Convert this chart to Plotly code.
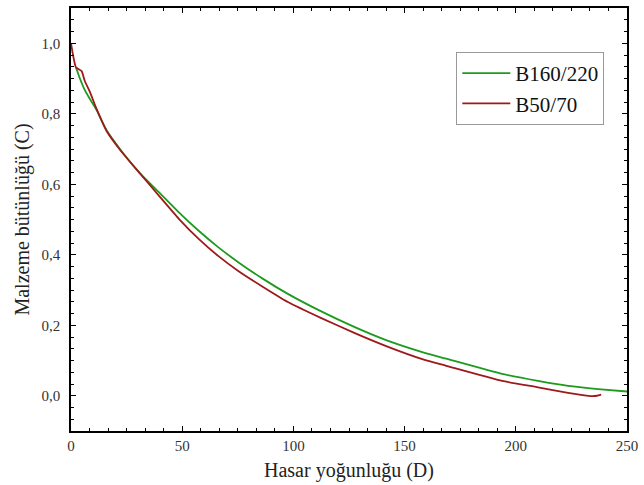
import plotly.graph_objects as go

# B160/220 (green)
green_x = [2.2, 4.0, 6.0, 8.5, 11.4, 16.0, 22.0, 30.7, 39.6, 48.5, 57.4, 66.3, 75.2,
           86.0, 97.5, 112.3, 127.1, 142.0, 158.3, 168.7, 193.9, 210.0, 223.5, 237.0, 250.0]
green_y = [0.932, 0.900, 0.870, 0.842, 0.812, 0.753, 0.700, 0.633, 0.577, 0.520, 0.468,
           0.421, 0.379, 0.333, 0.289, 0.240, 0.196, 0.157, 0.123, 0.105, 0.062, 0.042,
           0.028, 0.019, 0.012]

# B50/70 (dark red)
red_x = [0.0, 0.8, 2.2, 3.5, 4.8, 6.2, 8.5, 11.4, 16.0, 22.0, 30.7, 39.6, 48.5, 57.4,
         66.3, 75.2, 86.0, 97.5, 112.3, 127.1, 142.0, 158.3, 168.7, 193.9, 210.0, 223.5,
         230.0, 234.0, 236.5, 238.4]
red_y = [1.000, 0.970, 0.932, 0.926, 0.921, 0.893, 0.862, 0.815, 0.751, 0.698, 0.633,
         0.567, 0.502, 0.445, 0.396, 0.354, 0.310, 0.266, 0.221, 0.179, 0.140, 0.103,
         0.085, 0.042, 0.024, 0.008, 0.002, -0.001, 0.000, 0.003]

series_names = ["B160/220", "B50/70"]

FONT = "Liberation Serif"

fig = go.Figure()
fig.add_trace(go.Scatter(x=green_x, y=green_y, mode="lines", name=series_names[0],
                         line=dict(color="#1E9A1E", width=1.8, shape="spline", smoothing=0.5)))
fig.add_trace(go.Scatter(x=red_x, y=red_y, mode="lines", name=series_names[1],
                         line=dict(color="#9E1A1A", width=1.8, shape="spline", smoothing=0.5)))

axis_common = dict(
    showline=True, linecolor="black", linewidth=1.6, mirror="allticks",
    ticks="inside", ticklen=5, tickwidth=1.2, tickcolor="black",
    showgrid=False, zeroline=False,
    tickfont=dict(family=FONT, size=15, color="#333"),
    ticklabeloverflow="allow",
)

fig.update_xaxes(range=[0, 250], dtick=50, tick0=0,
                 minor=dict(dtick=50 / 6, ticks="inside", ticklen=3, tickcolor="black", showgrid=False),
                 title=dict(text="Hasar yoğunluğu (D)", font=dict(family=FONT, size=20, color="#222"), standoff=10),
                 **axis_common)
fig.update_yaxes(range=[-0.1, 1.1], dtick=0.2, tick0=0, tickformat=".1f",
                 minor=dict(dtick=0.2 / 6, ticks="inside", ticklen=3, tickcolor="black", showgrid=False),
                 title=dict(text="Malzeme bütünlüğü (C)", font=dict(family=FONT, size=20, color="#222"), standoff=6),
                 ticklabelstandoff=6,
                 **axis_common)

fig.update_layout(
    width=644, height=485,
    margin=dict(l=71, r=11, t=6, b=54),
    plot_bgcolor="white", paper_bgcolor="white",
    separators=", ",
    showlegend=True,
    legend=dict(x=0.693, y=0.896, xanchor="left", yanchor="top",
                bordercolor="#999", borderwidth=1, bgcolor="white",
                font=dict(family=FONT, size=21, color="#111"),
                itemwidth=48, tracegroupgap=0),
)

fig.write_html("out.html", config={"displayModeBar": False},
               post_script="document.body.style.margin='0';document.body.style.overflow='hidden';")
